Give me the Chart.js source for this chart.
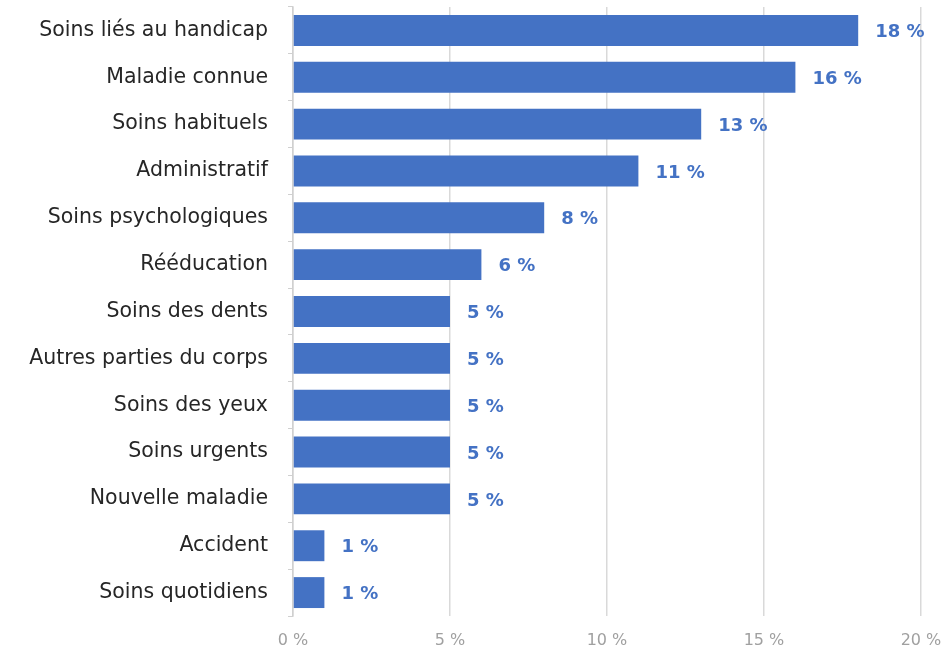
<!DOCTYPE html>
<html lang="fr">
<head>
    <meta charset="UTF-8">
    <title>Motifs de soins</title>
    <style>
        html, body {
            margin: 0;
            padding: 0;
            background: #ffffff;
        }

        #chart-container {
            width: 947px;
            height: 654px;
        }
    </style>
    <script src="https://cdn.jsdelivr.net/npm/chart.js"></script>
</head>
<body>

    <div id="chart-container">
        <canvas id="careChart"></canvas>
    </div>

    <script>
        const categories = [
            'Soins liés au handicap',
            'Maladie connue',
            'Soins habituels',
            'Administratif',
            'Soins psychologiques',
            'Rééducation',
            'Soins des dents',
            'Autres parties du corps',
            'Soins des yeux',
            'Soins urgents',
            'Nouvelle maladie',
            'Accident',
            'Soins quotidiens'
        ];
        const shares = [18, 16, 13, 11, 8, 6, 5, 5, 5, 5, 5, 1, 1];
        const xTicks = [0, 5, 10, 15, 20];

        const barColor = '#4472C4';

        // draws "18 %" etc. just after the end of each bar
        const valueLabels = {
            id: 'valueLabels',
            afterDatasetsDraw(chart) {
                const ctx = chart.ctx;
                const meta = chart.getDatasetMeta(0);
                ctx.save();
                ctx.font = 'bold 18px "DejaVu Sans", sans-serif';
                ctx.fillStyle = barColor;
                ctx.textAlign = 'left';
                ctx.textBaseline = 'middle';
                meta.data.forEach((bar, i) => {
                    ctx.fillText(shares[i] + ' %', bar.x + 17, bar.y + 2);
                });
                ctx.restore();
            }
        };

        function createChart() {
            const ctx = document.getElementById('careChart').getContext('2d');
            new Chart(ctx, {
                type: 'bar',
                data: {
                    labels: categories,
                    datasets: [{
                        data: shares,
                        backgroundColor: barColor,
                        barPercentage: 0.66,
                        categoryPercentage: 1
                    }]
                },
                options: {
                    indexAxis: 'y',
                    responsive: true,
                    maintainAspectRatio: false,
                    animation: false,
                    layout: {
                        padding: { top: 7, right: 26, left: 0, bottom: 0 }
                    },
                    plugins: {
                        legend: { display: false },
                        tooltip: { enabled: false }
                    },
                    scales: {
                        x: {
                            min: 0,
                            max: 20,
                            afterBuildTicks: (scale) => {
                                scale.ticks = xTicks.map(v => ({ value: v }));
                            },
                            afterFit: (scale) => {
                                scale.height = 38;
                                scale.paddingLeft = 0;
                                scale.paddingRight = 0;
                            },
                            grid: {
                                color: '#d9d9d9',
                                lineWidth: 1.5,
                                drawTicks: false
                            },
                            border: { display: false },
                            ticks: {
                                padding: 15,
                                color: '#a0a0a0',
                                font: { family: 'DejaVu Sans', size: 16 },
                                callback: (value) => value + ' %'
                            }
                        },
                        y: {
                            afterFit: (scale) => {
                                scale.width = 293;
                                scale.paddingTop = 0;
                                scale.paddingBottom = 0;
                            },
                            grid: {
                                drawOnChartArea: false,
                                drawTicks: true,
                                tickLength: 5,
                                color: '#d0d0d0'
                            },
                            border: { display: true, color: '#d0d0d0', width: 1.5 },
                            ticks: {
                                padding: 20,
                                color: '#262626',
                                font: { family: 'DejaVu Sans', size: 20.5 }
                            }
                        }
                    }
                },
                plugins: [valueLabels]
            });
        }

        window.onload = function () {
            createChart();
        };
    </script>

</body>
</html>
